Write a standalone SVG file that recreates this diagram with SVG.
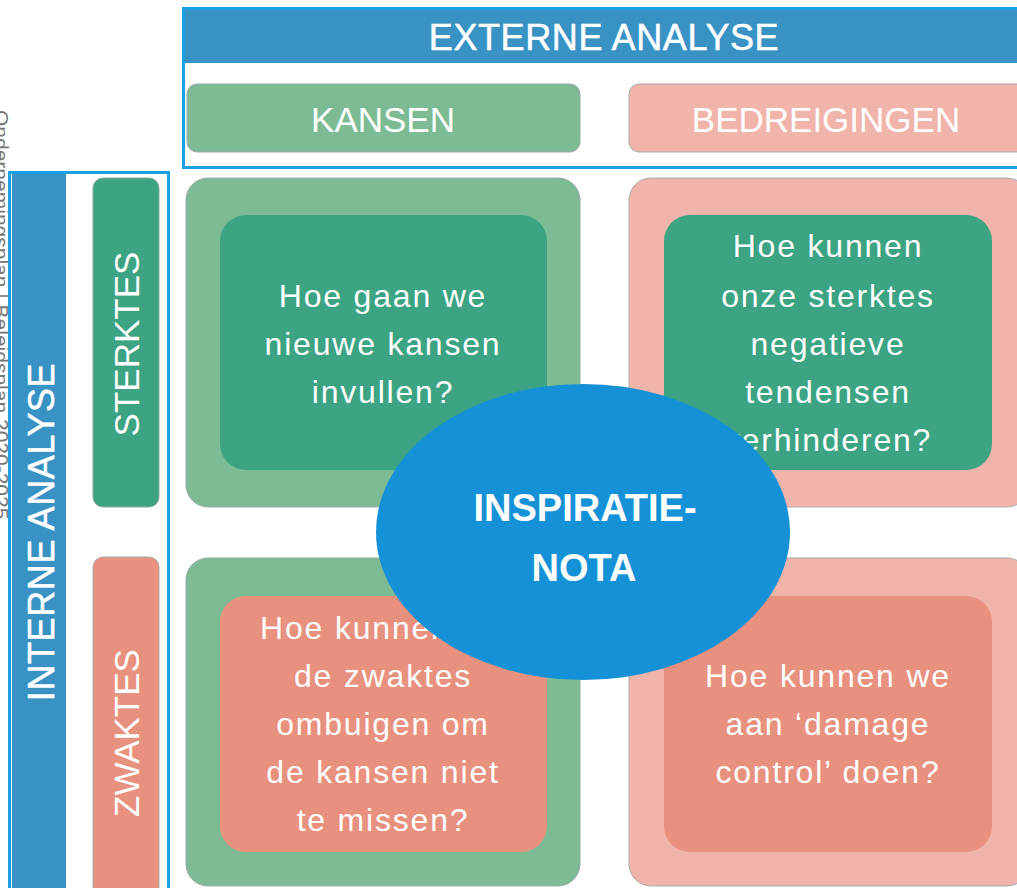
<svg xmlns="http://www.w3.org/2000/svg" width="1017" height="888" viewBox="0 0 1017 888">
<defs>
<style>
.frame{fill:none;stroke:#1aa0e2;stroke-width:3}
.band{fill:#3893c4}
.hdr{font-family:"Liberation Sans",Arial,sans-serif;font-size:36px;letter-spacing:0.6px;fill:#fff;stroke:#fff;stroke-width:0.5;text-anchor:middle}
.lbl{font-family:"Liberation Sans",Arial,sans-serif;font-size:35px;fill:#fff;text-anchor:middle}
.q{font-family:"Liberation Sans",Arial,sans-serif;font-size:32px;letter-spacing:1.8px;fill:#fff;text-anchor:middle}
.green{fill:#7dbb94;stroke:#9aa;stroke-width:1}
.pink{fill:#f0b4aa;stroke:#aaa;stroke-width:1}
.teal{fill:#3ca383}
.salmon{fill:#e8917f}
.nota{font-family:"Liberation Sans",Arial,sans-serif;font-size:38px;font-weight:bold;fill:#fff;text-anchor:middle}
</style>
</defs>
<rect width="1017" height="888" fill="#fff"/>
<text transform="translate(-6,110) rotate(90)" font-family="Liberation Sans, Arial, sans-serif" font-size="21" fill="#777">Ondernemingsplan | Beleidsplan 2020-2025</text>

<g id="externe-analyse">
<rect class="band" x="185" y="10" width="834" height="53"/>
<rect class="frame" x="183.5" y="8.5" width="836" height="159"/>
<text class="hdr" x="604" y="50">EXTERNE ANALYSE</text>
</g>
<g id="kansen">
<rect class="green" x="187" y="84" width="393" height="68" rx="10"/>
<text class="lbl" x="383" y="132">KANSEN</text>
</g>
<g id="bedreigingen">
<rect class="pink" x="629" y="84" width="400" height="68" rx="10"/>
<text class="lbl" x="826" y="132">BEDREIGINGEN</text>
</g>

<g id="interne-analyse">
<rect class="band" x="12" y="174" width="54" height="720"/>
<rect class="frame" x="9.5" y="172.5" width="159" height="720"/>
<text class="hdr" transform="translate(54,532) rotate(-90)">INTERNE ANALYSE</text>
</g>
<g id="sterktes">
<rect class="teal" x="93" y="178" width="66" height="329" rx="10" stroke="#8a9" stroke-width="1"/>
<text class="lbl" transform="translate(139,344) rotate(-90)">STERKTES</text>
</g>
<g id="zwaktes">
<rect class="salmon" x="93" y="557" width="66" height="340" rx="10" stroke="#aaa" stroke-width="1"/>
<text class="lbl" transform="translate(139,733) rotate(-90)">ZWAKTES</text>
</g>

<g id="kansen-sterktes">
<rect class="green" x="186" y="178" width="394" height="329" rx="22"/>
<rect class="teal" x="220" y="215" width="327" height="255" rx="26"/>
<text class="q" x="383"><tspan x="383" y="307">Hoe gaan we</tspan><tspan x="383" y="355">nieuwe kansen</tspan><tspan x="383" y="403">invullen?</tspan></text>
</g>
<g id="bedreigingen-sterktes">
<rect class="pink" x="629" y="178" width="400" height="329" rx="22"/>
<rect class="teal" x="664" y="215" width="328" height="255" rx="26"/>
<text class="q" x="828"><tspan x="828" y="257">Hoe kunnen</tspan><tspan x="828" y="307">onze sterktes</tspan><tspan x="828" y="355">negatieve</tspan><tspan x="828" y="403">tendensen</tspan><tspan x="828" y="451">verhinderen?</tspan></text>
</g>
<g id="kansen-zwaktes">
<rect class="green" x="186" y="558" width="394" height="328" rx="22"/>
<rect class="salmon" x="220" y="596" width="327" height="256" rx="26"/>
<text class="q" x="383"><tspan x="383" y="639">Hoe kunnen we</tspan><tspan x="383" y="687">de zwaktes</tspan><tspan x="383" y="735">ombuigen om</tspan><tspan x="383" y="783">de kansen niet</tspan><tspan x="383" y="831">te missen?</tspan></text>
</g>
<g id="bedreigingen-zwaktes">
<rect class="pink" x="629" y="558" width="400" height="328" rx="22"/>
<rect class="salmon" x="664" y="596" width="328" height="256" rx="26"/>
<text class="q" x="828"><tspan x="828" y="687">Hoe kunnen we</tspan><tspan x="828" y="735">aan ‘damage</tspan><tspan x="828" y="783">control’ doen?</tspan></text>
</g>

<g id="inspiratienota">
<ellipse cx="583" cy="532" rx="207" ry="148" fill="#1592d7"/>
<text class="nota"><tspan x="585" y="521">INSPIRATIE-</tspan><tspan x="584" y="581">NOTA</tspan></text>
</g>
<g id="connectors"/>
</svg>
